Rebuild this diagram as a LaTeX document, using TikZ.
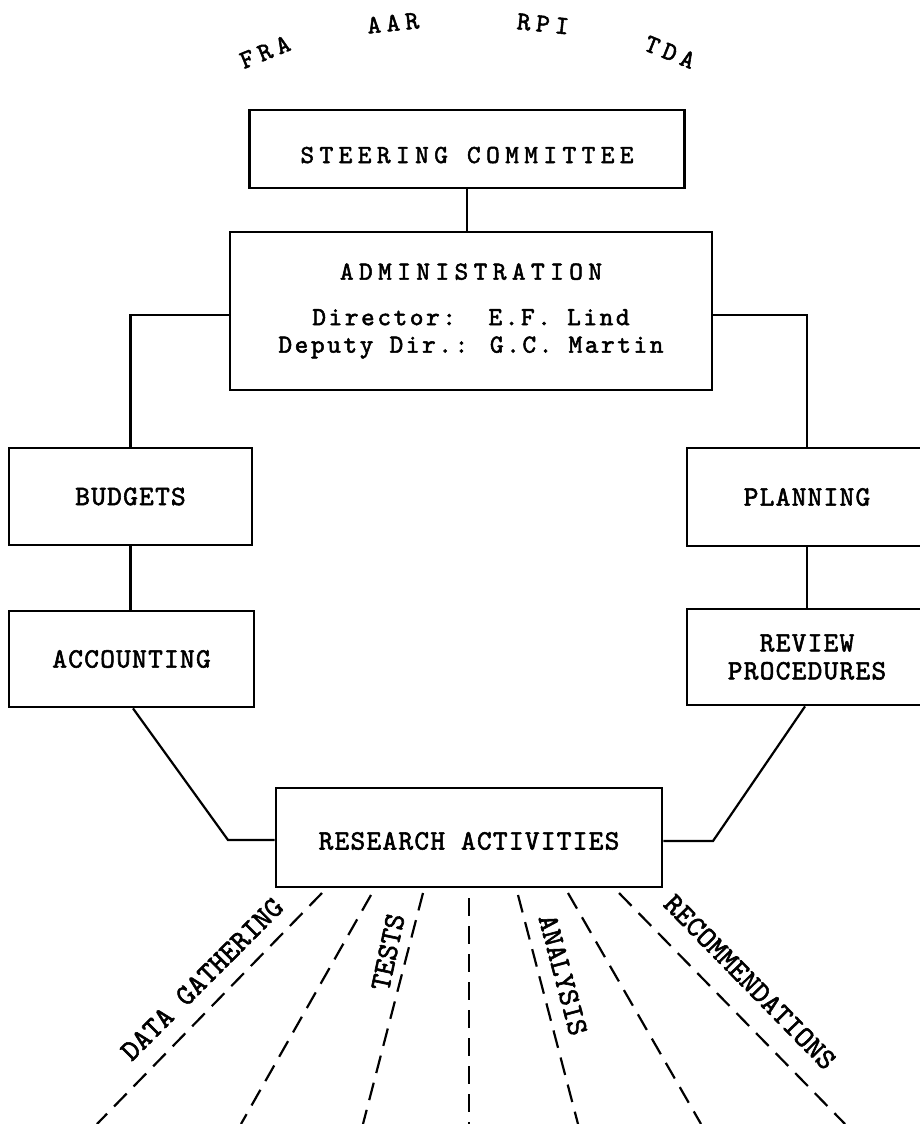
\documentclass[tikz,border=0pt]{standalone}
\usepackage{fontspec}
\newfontfamily\hdfont{lmmono10-regular}[Extension=.otf,LetterSpace=21,FakeBold=2]
\newfontfamily\drfont{lmmono10-regular}[Extension=.otf,LetterSpace=10,FakeBold=2]
\newfontfamily\lofont{lmmono10-regular}[Extension=.otf,LetterSpace=4.5,FakeBold=2]
\newfontfamily\rotfont{lmmono10-regular}[Extension=.otf,FakeBold=2]
\begin{document}
\begin{tikzpicture}[x=1pt,y=-1pt,
  box/.style={draw, line width=2.8pt, inner sep=0pt, align=center},
  conn/.style={line width=2.2pt},
  ray/.style={line width=2.2pt, dash pattern=on 18pt off 10pt},
  hd/.style={font=\hdfont\fontsize{26}{28}\selectfont},
  lo/.style={font=\lofont\fontsize{28}{28}\selectfont},
  rl/.style={font=\rotfont\fontsize{29.5}{30}\selectfont}]
\clip (0,0) rectangle (920,1124);
\fill[white] (0,0) rectangle (920,1124);

% top labels
\node[hd, rotate=22]  (fra) at (265,52) {FRA};
\node[hd, rotate=6]   (aar) at (393,23) {AAR};
\node[hd, rotate=-6]  (rpi) at (543,24) {RPI};
\node[hd, rotate=-22] (tda) at (670,52) {TDA};

% boxes
\node[box, hd, minimum width=435pt, minimum height=78pt, text height=28pt, text depth=0pt]
  (steer) at (467,149) {STEERING COMMITTEE};
\node[box, font=\drfont\fontsize{26}{27.5}\selectfont, minimum width=482pt, minimum height=158pt]
  (admin) at (471,311) {{\hdfont\fontsize{26}{27.5}\selectfont ADMINISTRATION}\\[18pt]
  Director:\ \ E.F. Lind\\ Deputy Dir.: G.C. Martin};
\node[box, lo, minimum width=243pt, minimum height=97pt] (budgets) at (130.5,496.5) {BUDGETS};
\node[box, lo, minimum width=245pt, minimum height=96pt] (accounting) at (131.5,659) {ACCOUNTING};
\node[box, lo, minimum width=240pt, minimum height=98pt] (planning) at (807,497) {PLANNING};
\node[box, lo, minimum width=240pt, minimum height=96pt] (review) at (807,657) {REVIEW\\PROCEDURES};
\node[box, lo, minimum width=386pt, minimum height=99pt, text height=24pt, text depth=0pt]
  (research) at (469,837.5) {RESEARCH ACTIVITIES};

% connectors
\draw[conn] (steer.south) -- (steer.south |- admin.north);
\draw[conn] ([yshift=-4pt]admin.west) -| (budgets.north);
\draw[conn] ([yshift=-4pt]admin.east) -| (planning.north);
\draw[conn] (budgets.south) -- (budgets.south |- accounting.north);
\draw[conn] (planning.south) -- (planning.south |- review.north);
\coordinate (ka) at (228,840);
\coordinate (kr) at (713,841);
\draw[conn] ([xshift=1.5pt]accounting.south) -- (ka) -- (ka -| research.west);
\draw[conn] ([xshift=-2pt]review.south) -- (kr) -- (kr -| research.east);

% rays
\foreach \i/\tx/\ty/\bx in {1/322/893/97, 2/371/895/241, 3/423/893/363, 4/469/898/469,
                            5/518/895/578, 6/568/893/701, 7/619/893/845} {
  \coordinate (t\i) at (\tx,\ty);
  \coordinate (b\i) at (\bx,1124);
  \draw[ray] (t\i) -- (b\i);
}

% ray labels
\node[rl, rotate=45]    (dg) at (202,979) {DATA GATHERING};
\node[rl, rotate=78]    (ts) at (388,952) {TESTS};
\node[rl, rotate=-75]   (an) at (563,975) {ANALYSIS};
\node[rl, rotate=-45.6] (rc) at (750,982) {RECOMMENDATIONS};
\end{tikzpicture}
\end{document}
